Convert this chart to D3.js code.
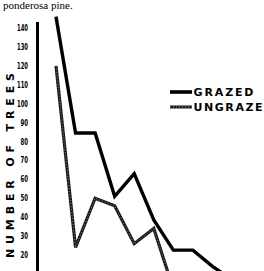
<!DOCTYPE html>
<html>
<head>
<meta charset="utf-8">
<script src="https://cdn.jsdelivr.net/npm/d3@7"></script>
<style>
    body { margin: 0; background: #fff; }
    svg { display: block; }
</style>
</head>
<body>
<div id="chart"></div>
<script>
var classes = [1, 2, 3, 4, 5, 6, 7, 8, 9, 10];
var grazed = [146, 84.5, 84.5, 51, 63, 38.5, 22.6, 22.6, 14, 7];
var ungrazed = [120, 24, 50, 46, 26, 34, 2];
var yTicks = [20, 30, 40, 50, 60, 70, 80, 90, 100, 110, 120, 130, 140];
var seriesNames = ["GRAZED", "UNGRAZE"];

var width = 264, height = 271;

var svg = d3.select("#chart")
    .append("svg")
    .attr("width", width)
    .attr("height", height);

var xScale = d3.scaleLinear()
    .domain([1, 10])
    .range([56, 232]);

var yScale = d3.scaleLinear()
    .domain([20, 140])
    .range([255, 28]);

// caption line left over from the page above the figure
svg.append("text")
    .attr("x", 3)
    .attr("y", 9)
    .style("font-family", "'Liberation Serif', 'Times New Roman', serif")
    .style("font-size", "11px")
    .text("ponderosa pine.");

// y axis: heavy rule, no tick marks
svg.append("line")
    .attr("x1", 37.5).attr("x2", 37.5)
    .attr("y1", 22).attr("y2", height + 5)
    .attr("stroke", "#000")
    .attr("stroke-width", 3);

svg.selectAll(".ytick")
    .data(yTicks)
    .enter().append("text")
    .attr("class", "ytick")
    .attr("x", 28)
    .attr("y", function (d) { return yScale(d) + 3; })
    .attr("text-anchor", "end")
    .attr("textLength", function (d) { return String(d).length > 2 ? 11 : 7.5; })
    .attr("lengthAdjust", "spacingAndGlyphs")
    .style("font-family", "'DejaVu Sans', sans-serif")
    .style("font-weight", "bold")
    .style("font-size", "8px")
    .text(function (d) { return d; });

svg.append("text")
    .attr("transform", "translate(14,165.5) rotate(-90)")
    .attr("text-anchor", "middle")
    .attr("textLength", 185)
    .attr("lengthAdjust", "spacing")
    .style("font-family", "'DejaVu Sans', sans-serif")
    .style("font-weight", "bold")
    .style("font-size", "11px")
    .text("NUMBER OF TREES");

var line = d3.line()
    .x(function (d, i) { return xScale(classes[i]); })
    .y(function (d) { return yScale(d); });

// ungrazed: rope-like hatched line
svg.append("path")
    .datum(ungrazed)
    .attr("d", line)
    .attr("fill", "none")
    .attr("stroke", "#1a1a1a")
    .attr("stroke-width", 3.2)
    .attr("stroke-linejoin", "miter");

svg.append("path")
    .datum(ungrazed)
    .attr("d", line)
    .attr("fill", "none")
    .attr("stroke", "#aaa")
    .attr("stroke-width", 0.8)
    .attr("stroke-dasharray", "1,2");

svg.append("path")
    .datum(grazed)
    .attr("d", line)
    .attr("fill", "none")
    .attr("stroke", "#000")
    .attr("stroke-width", 3.4)
    .attr("stroke-linejoin", "miter");

// legend
var legendY = [92, 107];
var legendW = [60, 69];

svg.append("line")
    .attr("x1", 170).attr("x2", 192)
    .attr("y1", legendY[0]).attr("y2", legendY[0])
    .attr("stroke", "#000")
    .attr("stroke-width", 3.6);

svg.append("line")
    .attr("x1", 170).attr("x2", 192)
    .attr("y1", legendY[1]).attr("y2", legendY[1])
    .attr("stroke", "#1a1a1a")
    .attr("stroke-width", 3);

svg.append("line")
    .attr("x1", 170).attr("x2", 192)
    .attr("y1", legendY[1]).attr("y2", legendY[1])
    .attr("stroke", "#aaa")
    .attr("stroke-width", 0.8)
    .attr("stroke-dasharray", "1,2");

for (var index = 0; index < seriesNames.length; index++) {
    svg.append("text")
        .attr("x", 193.5)
        .attr("y", legendY[index] + 3.8)
        .attr("textLength", legendW[index])
        .attr("lengthAdjust", "spacing")
        .style("font-family", "'DejaVu Sans', sans-serif")
        .style("font-weight", "bold")
        .style("font-size", "11px")
        .text(seriesNames[index]);
}
</script>
</body>
</html>
